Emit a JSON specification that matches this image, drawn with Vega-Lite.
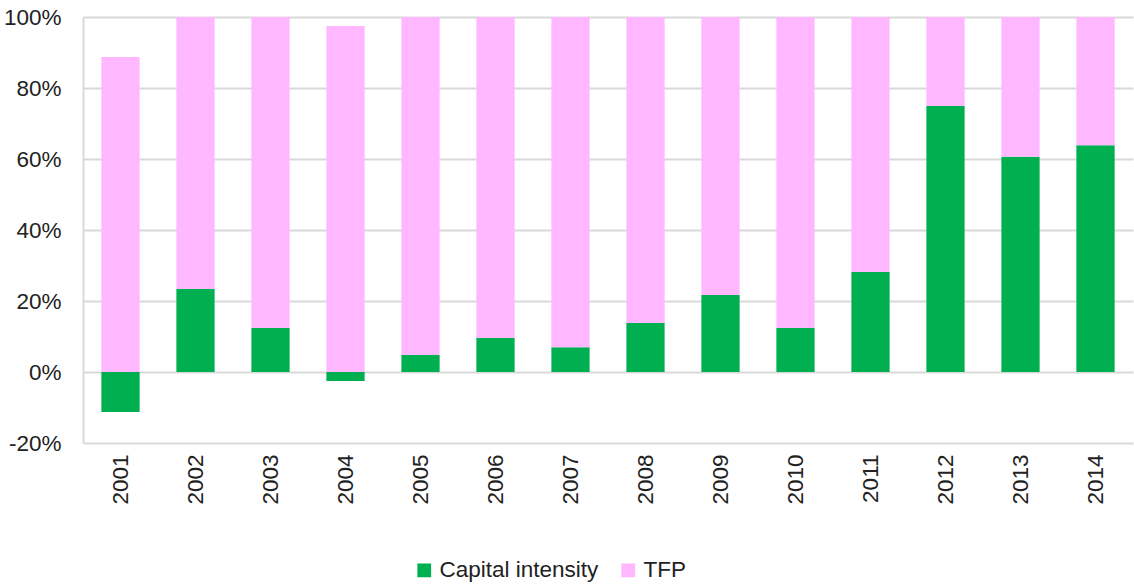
{
  "$schema": "https://vega.github.io/schema/vega-lite/v6.json",
  "autosize": {"type": "none"},
  "width": 1050,
  "height": 426,
  "padding": {"left": 83, "top": 17, "right": 1, "bottom": 141},
  "background": "white",
  "data": {"values": [
    {"year": "2001", "series": "Capital intensity", "value": -0.113, "o": 1},
    {"year": "2001", "series": "TFP", "value": 0.887, "o": 2},
    {"year": "2002", "series": "Capital intensity", "value": 0.234, "o": 1},
    {"year": "2002", "series": "TFP", "value": 0.766, "o": 2},
    {"year": "2003", "series": "Capital intensity", "value": 0.124, "o": 1},
    {"year": "2003", "series": "TFP", "value": 0.876, "o": 2},
    {"year": "2004", "series": "Capital intensity", "value": -0.025, "o": 1},
    {"year": "2004", "series": "TFP", "value": 0.975, "o": 2},
    {"year": "2005", "series": "Capital intensity", "value": 0.048, "o": 1},
    {"year": "2005", "series": "TFP", "value": 0.952, "o": 2},
    {"year": "2006", "series": "Capital intensity", "value": 0.096, "o": 1},
    {"year": "2006", "series": "TFP", "value": 0.904, "o": 2},
    {"year": "2007", "series": "Capital intensity", "value": 0.07, "o": 1},
    {"year": "2007", "series": "TFP", "value": 0.93, "o": 2},
    {"year": "2008", "series": "Capital intensity", "value": 0.138, "o": 1},
    {"year": "2008", "series": "TFP", "value": 0.862, "o": 2},
    {"year": "2009", "series": "Capital intensity", "value": 0.217, "o": 1},
    {"year": "2009", "series": "TFP", "value": 0.783, "o": 2},
    {"year": "2010", "series": "Capital intensity", "value": 0.124, "o": 1},
    {"year": "2010", "series": "TFP", "value": 0.876, "o": 2},
    {"year": "2011", "series": "Capital intensity", "value": 0.282, "o": 1},
    {"year": "2011", "series": "TFP", "value": 0.718, "o": 2},
    {"year": "2012", "series": "Capital intensity", "value": 0.749, "o": 1},
    {"year": "2012", "series": "TFP", "value": 0.251, "o": 2},
    {"year": "2013", "series": "Capital intensity", "value": 0.606, "o": 1},
    {"year": "2013", "series": "TFP", "value": 0.394, "o": 2},
    {"year": "2014", "series": "Capital intensity", "value": 0.639, "o": 1},
    {"year": "2014", "series": "TFP", "value": 0.361, "o": 2}
  ]},
  "mark": {"type": "bar"},
  "encoding": {
    "x": {
      "field": "year", "type": "ordinal", "title": null,
      "scale": {"paddingInner": 0.49, "paddingOuter": 0.245},
      "axis": {"labelAngle": -90, "labelFontSize": 22.5, "labelColor": "#222", "labelFont": "Liberation Sans", "ticks": false, "domain": false, "labelPadding": 11, "labelBaseline": "middle", "labelAlign": "right"}
    },
    "y": {
      "field": "value", "type": "quantitative", "stack": "zero", "title": null,
      "scale": {"domain": [-0.2, 1.0], "nice": false, "zero": false},
      "axis": {"format": ".0%", "labelExpr": "replace(datum.label, '\u2212', '-')", "values": [-0.2, 0, 0.2, 0.4, 0.6, 0.8, 1.0], "labelFontSize": 22.5, "labelColor": "#222", "labelFont": "Liberation Sans", "ticks": false, "domain": true, "domainColor": "#d9d9d9", "domainWidth": 2, "grid": true, "gridColor": "#d9d9d9", "gridWidth": 2, "labelPadding": 22}
    },
    "color": {
      "field": "series", "type": "nominal", "title": null,
      "scale": {"domain": ["Capital intensity", "TFP"], "range": ["#00B050", "#FFB8FF"]},
      "legend": {"orient": "none", "legendX": 330, "legendY": 542, "direction": "horizontal", "symbolType": "square", "symbolSize": 190, "symbolStrokeWidth": 0, "labelFontSize": 22.5, "labelFont": "Liberation Sans", "labelColor": "#222", "columnPadding": 18, "symbolOffset": 0, "labelOffset": 4}
    },
    "order": {"field": "o", "type": "quantitative"}
  },
  "config": {"view": {"stroke": null}}
}
